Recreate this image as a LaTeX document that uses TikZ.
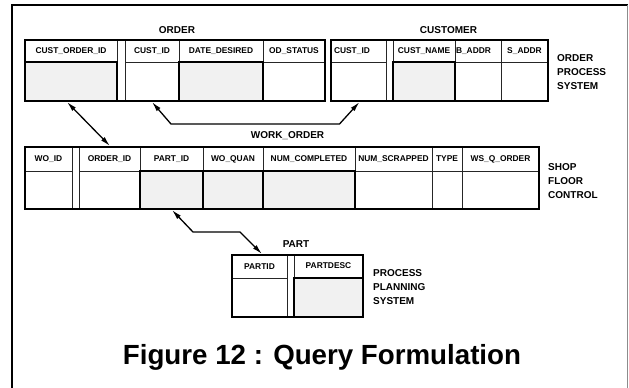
\documentclass[tikz,border=0pt]{standalone}
\usepackage{fontspec}
\setmainfont{Liberation Sans}
\usetikzlibrary{arrows.meta,calc}
\definecolor{shade}{RGB}{241,241,241}
\begin{document}
\begin{tikzpicture}[x=1pt,y=-1pt,
  cellbase/.style={anchor=north west, inner sep=0pt, outer sep=0pt},
  hcell/.style={cellbase, draw=black!85, line width=1pt,
    font=\bfseries\fontsize{8.4}{10}\selectfont},
  dcell/.style={cellbase, draw=black!85, line width=1pt},
  scell/.style={cellbase, draw=black, line width=1.7pt, fill=shade},
  frame/.style={draw=black, line width=1.4pt},
  title/.style={font=\bfseries\fontsize{10}{14}\selectfont, inner sep=0pt},
  side/.style={font=\bfseries\fontsize{10}{14}\selectfont, inner sep=0pt,
    anchor=north west, align=left},
  conn/.style={draw=black, line width=1.3pt,
    {Latex[length=10pt,width=5pt]}-{Latex[length=10pt,width=5pt]}}]
\useasboundingbox (0,0) rectangle (629,388);

% page border
\draw[line width=2pt] (12,388) -- (12,5) -- (628,5);
\draw[black!45, line width=0.8pt] (627,5) -- (627,388);

% ---------------- ORDER ----------------
\node[title] (tOrder) at (177,30) {ORDER};
\node[hcell, minimum width=92pt, minimum height=22pt] (o1h) at (25,40) {CUST\_ORDER\_ID};
\node[dcell, minimum width=8pt, minimum height=61pt] (o2) at (117,40) {};
\node[hcell, minimum width=54pt, minimum height=22pt] (o3h) at (125,40) {CUST\_ID};
\node[hcell, minimum width=84pt, minimum height=22pt] (o4h) at (179,40) {DATE\_DESIRED};
\node[hcell, minimum width=62pt, minimum height=22pt] (o5h) at (263,40) {OD\_STATUS};
\node[dcell, minimum width=54pt, minimum height=39pt] (o3d) at (125,62) {};
\node[dcell, minimum width=62pt, minimum height=39pt] (o5d) at (263,62) {};
\node[scell, minimum width=92pt, minimum height=39pt] (o1d) at (25,62) {};
\node[scell, minimum width=84pt, minimum height=39pt] (o4d) at (179,62) {};
\draw[frame] (o1h.north west) rectangle (o5d.south east);

% ---------------- CUSTOMER ----------------
\node[title] (tCust) at (448.5,30) {CUSTOMER};
\node[hcell, minimum width=55pt, minimum height=22pt, text width=49pt, align=left] (c1h) at (331,40) {CUST\_ID};
\node[dcell, minimum width=7pt, minimum height=61pt] (c2) at (386,40) {};
\node[hcell, minimum width=62pt, minimum height=22pt] (c3h) at (393,40) {CUST\_NAME};
\node[hcell, minimum width=46pt, minimum height=22pt, text width=44pt, align=left] (c4h) at (455,40) {\raisebox{1pt}{B\_ADDR}};
\node[hcell, minimum width=47pt, minimum height=22pt] (c5h) at (501,40) {S\_ADDR};
\node[dcell, minimum width=55pt, minimum height=39pt] (c1d) at (331,62) {};
\node[dcell, minimum width=46pt, minimum height=39pt] (c4d) at (455,62) {};
\node[dcell, minimum width=47pt, minimum height=39pt] (c5d) at (501,62) {};
\node[scell, minimum width=62pt, minimum height=39pt] (c3d) at (393,62) {};
\draw[frame] (c1h.north west) rectangle (c5d.south east);
\node[side] (sysOrder) at (557,54.4) {ORDER\\PROCESS\\SYSTEM};

% ---------------- WORK_ORDER ----------------
\node[title] (tWork) at (287.5,136) {WORK\_ORDER};
\node[hcell, minimum width=47pt, minimum height=24pt] (w1h) at (25,147) {WO\_ID};
\node[dcell, minimum width=7pt, minimum height=62pt] (w2) at (72,147) {};
\node[hcell, minimum width=61pt, minimum height=24pt] (w3h) at (79,147) {ORDER\_ID};
\node[hcell, minimum width=63pt, minimum height=24pt] (w4h) at (140,147) {PART\_ID};
\node[hcell, minimum width=60pt, minimum height=24pt] (w5h) at (203,147) {WO\_QUAN};
\node[hcell, minimum width=92pt, minimum height=24pt] (w6h) at (263,147) {NUM\_COMPLETED};
\node[hcell, minimum width=77pt, minimum height=24pt] (w7h) at (355,147) {NUM\_SCRAPPED};
\node[hcell, minimum width=30pt, minimum height=24pt] (w8h) at (432,147) {TYPE};
\node[hcell, minimum width=77pt, minimum height=24pt] (w9h) at (462,147) {WS\_Q\_ORDER};
\node[dcell, minimum width=47pt, minimum height=38pt] (w1d) at (25,171) {};
\node[dcell, minimum width=61pt, minimum height=38pt] (w3d) at (79,171) {};
\node[dcell, minimum width=77pt, minimum height=38pt] (w7d) at (355,171) {};
\node[dcell, minimum width=30pt, minimum height=38pt] (w8d) at (432,171) {};
\node[dcell, minimum width=77pt, minimum height=38pt] (w9d) at (462,171) {};
\node[scell, minimum width=63pt, minimum height=38pt] (w4d) at (140,171) {};
\node[scell, minimum width=60pt, minimum height=38pt] (w5d) at (203,171) {};
\node[scell, minimum width=92pt, minimum height=38pt] (w6d) at (263,171) {};
\draw[frame] (w1h.north west) rectangle (w9d.south east);
\node[side] (sysShop) at (548,163.4) {SHOP\\FLOOR\\CONTROL};

% ---------------- PART ----------------
\node[title] (tPart) at (296,244.3) {PART};
\node[hcell, minimum width=55pt, minimum height=23pt] (p1h) at (232,255) {PARTID};
\node[dcell, minimum width=7pt, minimum height=62pt] (p2) at (287,255) {};
\node[hcell, minimum width=69pt, minimum height=23pt] (p3h) at (294,255) {\raisebox{1pt}{PARTDESC}};
\node[dcell, minimum width=55pt, minimum height=39pt] (p1d) at (232,278) {};
\node[scell, minimum width=69pt, minimum height=39pt] (p3d) at (294,278) {};
\draw[frame] (p1h.north west) rectangle (p3d.south east);
\node[side] (sysPlan) at (373,269.4) {PROCESS\\PLANNING\\SYSTEM};

% ---------------- connectors ----------------
\draw[conn] ($(o1d.south)+(-4,1)$) -- ($(w3h.north)+(0.5,-1)$);
\draw[conn] ($(o3d.south)+(0,1)$) -- ($(o3d.south)+(19,23)$)
  -- ($(c1d.south)+(-19,23)$) -- ($(c1d.south)+(1,1)$);
\draw[conn] ($(w4d.south)+(0.5,1)$) -- ($(w4d.south)+(21.5,23)$)
  -- ($(p1h.north)+(-19.5,-23)$) -- ($(p1h.north)+(2.5,-1)$);

% caption
\node[font=\bfseries\fontsize{27.7}{32}\selectfont, anchor=base, inner sep=0pt]
  (caption) at (322,364) {Figure 12 : Query Formulation};
\end{tikzpicture}
\end{document}
